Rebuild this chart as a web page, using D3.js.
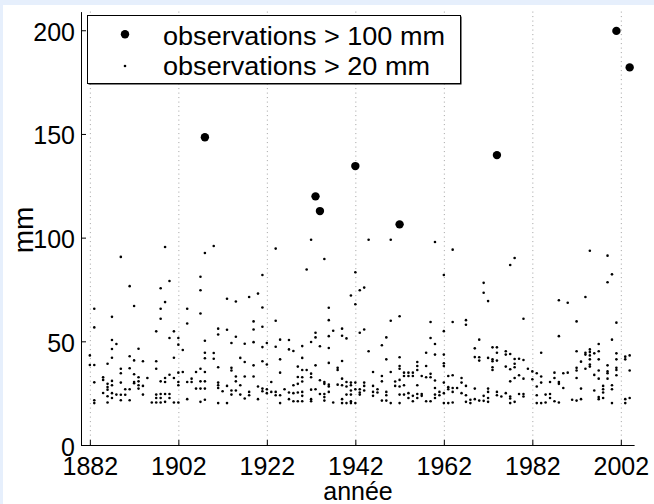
<!DOCTYPE html>
<html><head><meta charset="utf-8">
<script src="https://cdn.jsdelivr.net/npm/d3@7"></script>
<style>
html,body{margin:0;padding:0;background:#e6effc;}
svg{display:block;}
text{font-family:"Liberation Sans",Arial,Helvetica,sans-serif;}
</style></head><body>
<svg id="chart" width="654" height="504"></svg>
<script>
const xTicks = [1882,1902,1922,1942,1962,1982,2002];
const yTicks = [0,50,100,150,200];
const legendLabels = ["observations > 100 mm","observations > 20 mm"];
const xLabel = "année", yLabel = "mm";

// observations > 100 mm
const bigYears  = [1908, 1933, 1934, 1942, 1952, 1974, 2001, 2004];
const bigValues = [148.4, 119.9, 112.8, 134.5, 106.4, 139.8, 199.7, 182.1];

// observations > 20 mm : [year, mm]
const obs20 = [
[1889,90.7],[1908,92.6],[1891,76.6],[1892,67],[1883,65.7],[1883,56.7],[1887,61.8],[1907,81.1],[1907,74.6],[1907,63.4],[1904,65.7],[1904,58.6],[1900,79.1],[1898,75.6],[1899,68.9],[1898,65.7],[1898,60.9],[1897,54.8],[1901,54.8],[1900,51.6],[1902,51.6],[1902,48.4],[1903,45.8],[1901,42.1],[1897,40.4],[1897,36.8],[1921,82],[1920,73],[1918,71.4],[1915,69.2],[1913,70.5],[1921,66.3],[1919,59.6],[1919,55.7],[1921,57],[1924,59.9],[1911,56.1],[1911,53.3],[1913,55.6],[1915,52.2],[1914,49.2],[1917,48.8],[1919,49.6],[1921,47.2],[1922,49.2],[1908,50.3],[1908,44.5],[1908,41.8],[1910,44.4],[1910,41.6],
[1882,43.2],[1882,38.6],[1883,38.6],[1886,39.2],[1887,42.1],[1887,46.3],[1887,50.6],[1888,48.7],[1891,42.8],[1892,40.8],[1894,40.4],[1893,46.4],[1889,36.8],[1889,34.6],[1891,37],[1892,34.1],[1892,30.4],[1892,29.8],[1893,32.7],[1893,30.7],[1893,28.8],[1894,28.5],[1895,32.3],[1894,24.3],[1893,27.2],[1891,26.9],[1890,26.9],[1889,30.1],[1889,24.2],[1890,24.2],[1891,21.6],[1889,21.6],[1887,30.9],[1887,28.8],[1887,25],[1887,22.7],[1886,29.5],[1886,28],[1886,26.7],[1885,32.7],[1885,31.4],[1885,25.1],[1886,23.5],[1886,20.5],[1883,30.2],[1883,21.6],[1883,20.2],[1888,24.3],
[1897,24.3],[1897,22.7],[1898,24.6],[1898,22.7],[1899,24.6],[1900,24.6],[1900,22.7],[1899,30.4],[1899,32.3],[1900,33.9],[1898,30.7],[1901,32.3],[1902,34.9],[1902,30.4],[1902,28.8],[1903,35.2],[1896,20.5],[1897,20.5],[1898,20.5],[1899,20.8],[1901,20.5],[1902,20.5],[1904,30.4],[1905,32],[1905,30.4],[1906,27.2],[1907,27.2],[1907,30.7],[1907,36.8],[1906,35.2],[1908,35.2],[1908,30.7],[1908,27.2],[1908,21.8],[1907,20.8],[1904,22.1],
[1911,37.5],[1911,30.1],[1911,28.8],[1911,27.5],[1912,25.9],[1913,28.5],[1914,37.2],[1914,35.9],[1915,33],[1915,26.3],[1914,26.3],[1914,24.3],[1915,30.7],[1916,28.8],[1916,42],[1917,40],[1916,24.3],[1917,33],[1917,22.4],[1918,25.6],[1918,24],[1919,38.4],[1919,33],[1920,28.2],[1920,22.1],[1921,27.2],[1921,25.9],[1922,38.8],[1922,26.9],[1922,25],[1923,30.4],[1923,25.6],[1924,24],[1925,34.9],[1925,41.3],[1925,20.2],[1921,40.4],[1911,20.2],[1913,20.2],
[1924,47.4],[1924,25.6],[1925,24],[1925,50.8],[1935,89.7],[1931,84.6],[1942,83.3],[1942,67.9],[1941,72.1],[1943,74.6],[1944,75.9],[1943,54.1],[1944,55.7],[1945,45.2],[1962,82],[1964,94.2],[1964,59.3],[1967,60.2],[1967,58],[1927,50.6],[1927,46.1],[1928,45.3],[1930,47.7],[1930,42],[1932,49.7],[1933,54.1],[1933,51.9],[1934,47.6],[1936,66.2],[1936,60.2],[1936,52.5],[1936,46.8],[1936,39.6],[1937,55.1],[1939,56.1],[1939,52.7],[1940,51.4],[1939,40.5],[1938,37.2],[1938,36.2],[1929,37.8],[1930,36.2],[1931,36.2],[1933,38.4],[1932,34.4],[1932,32.7],[1930,32.7],[1929,32.8],[1930,30.6],[1928,28.8],[1929,29.5],[1929,25.3],[1930,25.6],[1932,26.7],[1934,31.2],[1935,30.4],[1935,29.5],[1936,29.1],[1936,28.2],[1936,25.6],[1939,32],[1939,28.8],[1938,29.1],[1940,30.4],[1940,28.2],[1941,30.1],[1941,28.8],[1940,24.3],[1941,26.3],[1941,24.3],[1942,30.1],[1942,26.9],[1943,24.3],[1943,26.9],[1944,30.1],[1944,28.5],[1944,26.3],[1946,35.2],[1946,28.5],[1946,25.6],[1947,26.9],[1948,33.3],[1948,30.7],[1949,25.6],[1949,24],[1950,35.2],[1951,30.6],[1951,28.5],[1952,31.4],[1952,28.2],[1952,24.3],[1953,34.9],[1953,33.3],[1953,28.8],[1954,34.9],[1954,33.3],[1954,25],[1955,34.9],[1955,33.3],[1955,21.1],[1956,40],[1956,38.1],[1956,36.2],[1956,28.8],[1957,33.3],[1958,38.1],[1958,32.7],[1959,32.7],[1959,34.3],[1960,31.1],[1960,27.5],[1960,24.3],[1960,22.7],[1959,21.1],[1958,21.1],[1957,24.6],[1957,23.7],[1956,24.6],[1955,23.7],[1956,22.7],[1954,22.7],[1953,24.3],[1952,20.2],[1950,20.2],[1948,21.4],[1949,21.4],[1947,25.3],[1946,23.7],[1941,21.1],[1941,20.2],[1940,20.2],[1939,22.1],[1939,20.2],[1937,20.5],[1935,24.6],[1935,23.1],[1935,21.4],[1934,24.6],[1933,26.9],[1932,22.1],[1932,21.1],[1930,23.7],[1930,21.1],[1929,21.1],[1928,25],[1928,21.1],[1927,25.3],[1927,22.1],[1926,26.9],[1942,20.2],[1943,25.3],[1950,59.9],[1952,62.1],[1949,51.9],[1948,48.1],[1949,41.3],[1952,42.3],[1952,38.1],[1952,36.8],[1958,44.5],[1959,59.3],[1959,51.6],[1960,48.7],[1960,43.6],[1962,54.9],[1962,43.6],[1962,39.4],[1962,38.1],[1962,30.1],[1963,33.3],[1964,33.6],[1963,27.9],[1963,26.9],[1964,27.5],[1964,25.6],[1963,20.2],[1964,20.5],[1962,20.2],[1962,25],[1961,25.6],[1961,24],[1965,27.5],[1966,32.3],[1966,30.1],[1967,24],[1968,21.8],[1968,20.2],[1966,25],
[1967,28.5],[1967,20.8],[1978,90.2],[1977,86.8],[1971,78.2],[1971,73.4],[1972,69.4],[1970,50.8],[1969,46.6],[1969,42.4],[1970,42.3],[1970,40.7],[1980,60.9],[1973,47.1],[1974,47.1],[1973,41.3],[1973,40.4],[1974,44.5],[1974,40.7],[1972,42],[1976,45.2],[1976,43.6],[1977,43.9],[1978,41.5],[1978,39.2],[1978,37.5],[1979,41.6],[1980,41],[1976,37.8],[1977,36.5],[1973,37.5],[1973,36.2],[1979,33.6],[1978,32.3],[1977,30.7],[1980,32],[1981,36.8],[1982,35.5],[1969,27.2],[1972,27.2],[1972,25.6],[1974,25.6],[1974,24],[1975,23.4],[1976,25],[1977,23.4],[1977,22.4],[1977,20.2],[1978,20.8],[1979,24.6],[1980,24.6],[1980,23.4],[1969,22.1],[1970,21.4],[1971,23.7],[1971,21.3],[1972,22.7],[1972,20.8],
[1995,93.7],[1999,91.3],[2000,82.3],[1999,78.5],[1994,71.4],[1988,69.8],[1990,68.6],[1992,59.6],[1988,52.5],[2001,59],[2000,50.8],[1997,48.7],[1997,45.2],[1996,44.2],[1995,46.1],[1995,44.8],[1994,44.5],[1994,43.6],[1992,45.2],[1993,40.2],[1995,43.2],[1995,41.3],[1997,41.3],[1995,38.8],[1995,37.8],[1994,36.8],[1992,37.2],[1992,35.9],[1992,32.3],[1990,34.9],[1989,34.6],[1987,34.9],[1987,32.3],[1988,30.4],[1988,29.5],[1989,27.5],[1984,44.5],[1983,34.6],[1984,33],[1984,30.1],[1983,28.2],[1982,31.7],[1986,30.4],[1985,24.3],[1986,24.6],[1986,22.7],[1987,21.1],[1988,20.5],[1983,24],[1983,20.2],[1984,20.2],[1985,20.5],[1991,21.8],[1992,21.4],[1993,22.1],[1993,27.2],[1996,26.3],[1997,23.1],[1997,22.1],[1998,28.5],[1998,26.9],[1998,25.3],[1998,22.7],[1999,32],[1999,34.6],[1999,35.5],[1997,35.9],[1997,32],[1996,33.8],[2000,28.8],[2000,26.9],[2000,20.2],[2001,37.2],[2001,36.2],[2001,33.6],[2001,41.3],[2001,44.2],[2003,42.6],[2003,41.3],[2004,43.2],[2004,35.9],[2003,22.1],[2003,20.2],[2004,22.7],[1999,38.4],
[1932,99],[1899,95.5],[1910,96],[1924,94.7],[1945,99],[1950,99],[1960,97.9]
];

const svg = d3.select("#chart");
svg.append("rect").attr("x",3).attr("y",5).attr("width",651).attr("height",499).attr("fill","#ffffff");

const x = d3.scaleLinear().domain([1880,2005]).range([81,634.1]);
const y = d3.scaleLinear().domain([0,209]).range([445,11.6]);

// vertical dotted grid
svg.append("g").selectAll("line").data(xTicks).join("line")
  .attr("x1",d=>x(d)+0.5).attr("x2",d=>x(d)+0.5)
  .attr("y1",y(209)).attr("y2",y(0))
  .attr("stroke","#a0a0a0").attr("stroke-width",1).attr("stroke-dasharray","1,3.5");

// axes
const xAxis = d3.axisBottom(x).tickValues(xTicks).tickFormat(d3.format("d"))
  .tickSizeInner(-5).tickSizeOuter(0).tickPadding(12);
const gx = svg.append("g").attr("transform",`translate(0,${y(0)})`).call(xAxis);
const yAxis = d3.axisLeft(y).tickValues(yTicks).tickFormat(d3.format("d"))
  .tickSizeInner(-5).tickSizeOuter(0).tickPadding(6);
const gy = svg.append("g").attr("transform",`translate(${x(1880)},0)`).call(yAxis);
[gx,gy].forEach(g=>{
  g.attr("font-size",25).attr("font-family","'Liberation Sans',Arial,sans-serif").attr("color","#000");
  g.selectAll("text").attr("fill","#000");
});
gy.selectAll("text").attr("dy","0.4em");

// points
svg.append("g").selectAll("circle").data(obs20).join("circle")
  .attr("cx",d=>x(d[0])).attr("cy",d=>y(d[1])).attr("r",1.3).attr("fill","#000");
svg.append("g").selectAll("circle").data(bigYears.map((yr,i)=>[yr,bigValues[i]])).join("circle")
  .attr("cx",d=>x(d[0])).attr("cy",d=>y(d[1])).attr("r",4.2).attr("fill","#000");

// legend
const lg = svg.append("g");
lg.append("rect").attr("x",88.5).attr("y",16.5).attr("width",373).attr("height",68).attr("fill","#000");
lg.append("rect").attr("x",87.5).attr("y",15.5).attr("width",373).attr("height",68)
  .attr("fill","#fff").attr("stroke","#000").attr("stroke-width",1);
lg.append("circle").attr("cx",125).attr("cy",34.3).attr("r",4.2).attr("fill","#000");
lg.append("circle").attr("cx",125).attr("cy",66).attr("r",1.3).attr("fill","#000");
lg.append("text").attr("x",163).attr("y",45).attr("font-size",25).attr("textLength",282)
  .attr("lengthAdjust","spacingAndGlyphs").text(legendLabels[0]);
lg.append("text").attr("x",163).attr("y",75).attr("font-size",25).attr("textLength",267)
  .attr("lengthAdjust","spacingAndGlyphs").text(legendLabels[1]);

// axis titles
svg.append("text").attr("x",358).attr("y",500).attr("text-anchor","middle")
  .attr("font-size",25).text(xLabel);
svg.append("text").attr("transform","translate(33,230) rotate(-90)").attr("text-anchor","middle")
  .attr("font-size",28).text(yLabel);
</script>
</body></html>
